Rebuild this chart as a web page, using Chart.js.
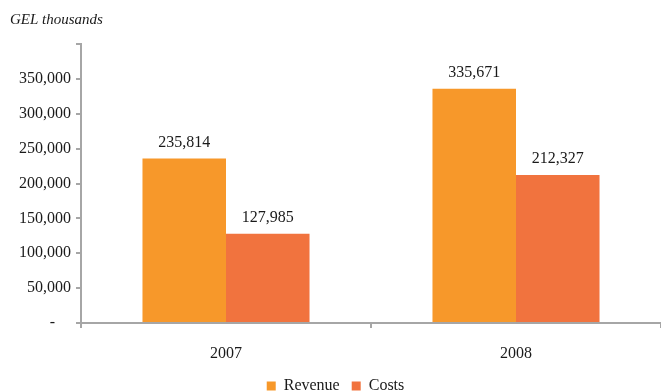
<!DOCTYPE html>
<html>
<head>
<meta charset="utf-8">
<script src="https://cdn.jsdelivr.net/npm/chart.js@4"></script>
<style>
  html, body { margin: 0; padding: 0; background: #fff; }
  #wrap { width: 661px; height: 392px; }
</style>
</head>
<body>
<div id="wrap"><canvas id="chart" width="661" height="392"></canvas></div>
<script>
// Values in GEL thousands
const years = ['2007', '2008'];
const revenue = [235814, 335671];
const costs = [127985, 212327];

const AXIS_GREY = '#A6A6A6';
const FONT = 'Liberation Serif';
const TEXT = '#1a1a1a';

// Draws the number above each bar
const valueLabels = {
    id: 'valueLabels',
    afterDatasetsDraw(chart) {
        const ctx = chart.ctx;
        ctx.save();
        ctx.font = `16px "${FONT}"`;
        ctx.fillStyle = TEXT;
        ctx.textAlign = 'center';
        ctx.textBaseline = 'bottom';
        chart.data.datasets.forEach((ds, i) => {
            chart.getDatasetMeta(i).data.forEach((bar, j) => {
                ctx.fillText(ds.data[j].toLocaleString('en-US'), bar.x, bar.y - 8);
            });
        });
        ctx.restore();
    }
};

new Chart(document.getElementById('chart'), {
    type: 'bar',
    data: {
        labels: years,
        datasets: [{
            label: 'Revenue',
            data: revenue,
            backgroundColor: '#F7982A',
            categoryPercentage: 0.576,
            barPercentage: 1
        }, {
            label: 'Costs',
            data: costs,
            backgroundColor: '#F1733E',
            categoryPercentage: 0.576,
            barPercentage: 1
        }]
    },
    options: {
        responsive: false,
        animation: false,
        layout: { padding: { left: 10, right: 0, top: 0, bottom: -12 } },
        plugins: {
            title: {
                display: true,
                text: 'GEL thousands',
                align: 'start',
                color: TEXT,
                font: { family: FONT, size: 15, style: 'italic', weight: 'normal' },
                padding: { top: 11, bottom: 15 }
            },
            legend: {
                position: 'bottom',
                labels: {
                    boxWidth: 9,
                    boxHeight: 9,
                    color: TEXT,
                    padding: 12,
                    font: { family: FONT, size: 16 }
                }
            },
            tooltip: { enabled: false }
        },
        scales: {
            x: {
                offset: true,
                grid: {
                    offset: true,
                    drawOnChartArea: false,
                    color: AXIS_GREY,
                    lineWidth: 2,
                    tickLength: 5
                },
                border: { color: AXIS_GREY, width: 2 },
                ticks: {
                    color: TEXT,
                    padding: 16,
                    font: { family: FONT, size: 16 }
                },
                afterFit: (scale) => { scale.height = 43; }
            },
            y: {
                min: 0,
                max: 400000,
                grid: {
                    drawOnChartArea: false,
                    color: AXIS_GREY,
                    lineWidth: 2,
                    tickLength: 5
                },
                border: { color: AXIS_GREY, width: 2 },
                ticks: {
                    stepSize: 50000,
                    color: TEXT,
                    padding: 5,
                    font: { family: FONT, size: 16 },
                    callback: (v) => v === 0 ? '-    ' : (v === 400000 ? '' : v.toLocaleString('en-US'))
                },
                afterFit: (scale) => { scale.width = 71; }
            }
        }
    },
    plugins: [valueLabels]
});
</script>
</body>
</html>
